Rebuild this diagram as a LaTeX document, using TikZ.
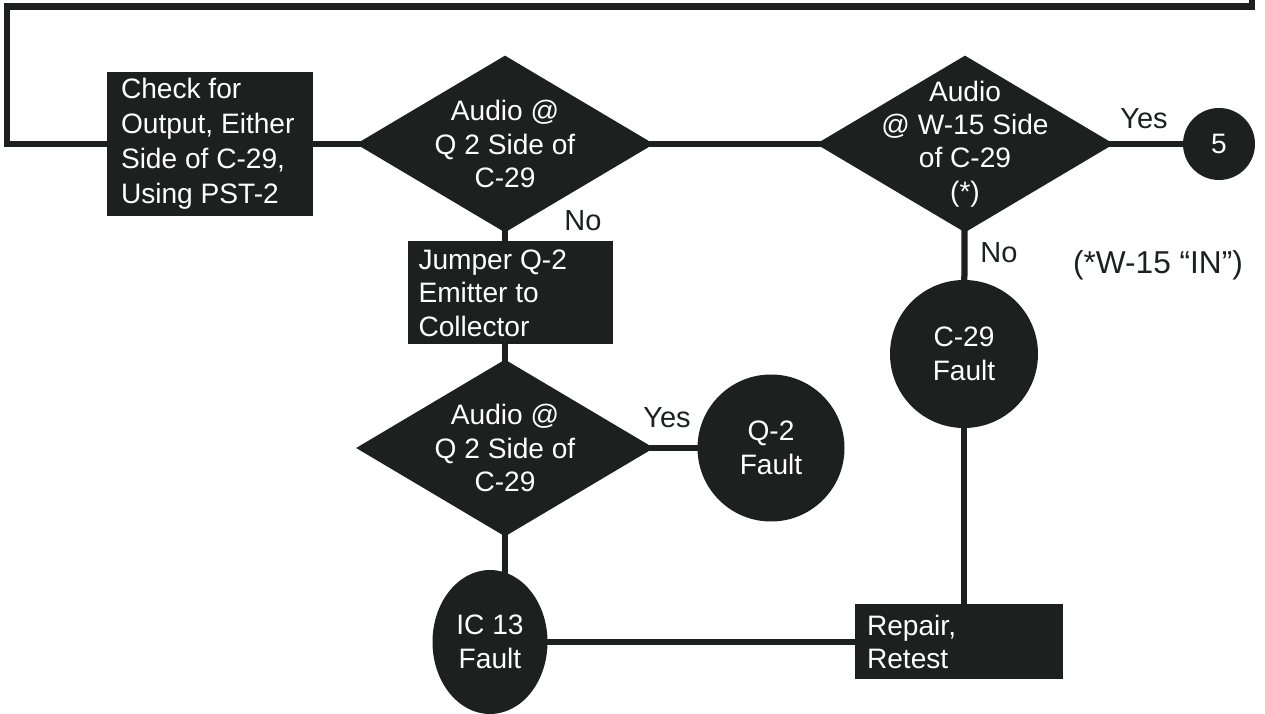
\documentclass[tikz,border=0pt]{standalone}
\usepackage{fontspec}
\setmainfont{Liberation Sans}
\usepackage{xcolor}
\usepackage{tikz}
\usetikzlibrary{shapes,positioning,calc,backgrounds}

\definecolor{ink}{RGB}{28,32,30}
\tikzset{
    wire/.style={line width=0.125cm, draw=ink},
    block/.style={rectangle, fill=ink, text=white, align=flush left, font=\fontsize{16}{19}\selectfont},
    decision/.style={diamond, fill=ink, aspect=1.68, minimum width=5.96cm, minimum height=3.54cm, inner sep=0pt},
    dtext/.style={text=white, align=center, inner sep=0pt, font=\fontsize{16}{19}\selectfont},
    fault/.style={circle, fill=ink, text=white, align=center, inner sep=0pt, minimum size=#1, font=\fontsize{16}{19}\selectfont},
    lbl/.style={text=ink, inner sep=0pt, font=\fontsize{16.5}{20}\selectfont},
}

\begin{document}
\begin{tikzpicture}
    \useasboundingbox (0,0) rectangle (25.3,14.28);

    % Top row
    \node [block, text width=3.56cm, inner xsep=0.28cm, minimum height=2.84cm,
        font=\fontsize{16}{20}\selectfont] (check) at (4.20,11.40)
        {Check for\\Output, Either\\Side of C-29,\\Using PST-2};
    \node [decision, label={[dtext]center:Audio @\\Q 2 Side of\\C-29}] (d1) at (10.10,11.40) {};
    \node [decision, label={[dtext]center:Audio\\@ W-15 Side\\of C-29\\(*)}] (d2) at (19.30,11.40) {};
    \node [fault=1.44cm] (five) at (24.38,11.40) {5};

    % Q-2 branch
    \node [block, text width=3.66cm, inner xsep=0.22cm, minimum height=2.06cm] (jump) at (10.20,8.42)
        {Jumper Q-2\\Emitter to\\Collector};
    \node [decision, label={[dtext]center:Audio @\\Q 2 Side of\\C-29}] (d3) at (10.10,5.32) {};
    \node [fault=2.94cm] (q2) at (15.42,5.32) {Q-2\\Fault};
    \node [ellipse, fill=ink, text=white, align=center, inner sep=0pt, minimum width=2.30cm, minimum height=2.88cm,
        font=\fontsize{16}{19}\selectfont] (ic) at (9.80,1.44) {IC 13\\Fault};

    % C-29 branch
    \node [fault=2.96cm] (c29) at (19.28,7.20) {C-29\\Fault};
    \node [block, text width=3.68cm, inner xsep=0.24cm, minimum height=1.50cm] (repair) at (19.18,1.44)
        {Repair,\\Retest};

    % Labels
    \node [lbl] (yes1) at (22.88,11.90) {Yes};
    \node [lbl] (no1) at (11.66,9.86) {No};
    \node [lbl] (yes2) at (13.34,5.92) {Yes};
    \node [lbl] (no2) at (19.98,9.22) {No};
    \node [lbl, font=\fontsize{18}{22}\selectfont] (note) at (23.16,8.98) {(*W-15 ``IN'')};

    % Connectors (run to centres, hidden behind the fills)
    \coordinate (loopend) at (25.04,14.28);
    \begin{scope}[on background layer]
        \draw [wire] (loopend) |- (0.14,14.15) |- (check.center);
        \draw [wire] (check.center) -- (d1.center) -- (d2.center) -- (five.center);
        \draw [wire] (d1.center) -- (d1.center |- jump.center);
        \draw [wire] (d3.center) -- (d3.center |- jump.center);
        \draw [wire] (d3.center) -- (q2.center);
        \draw [wire] (d3.center) -- (d3.center |- ic.center);
        \draw [wire] (ic.center) -- (repair.center);
        \draw [wire] (d2.center) -- (c29.center);
        \draw [wire] (c29.center) -- (c29.center |- repair.center);
    \end{scope}
\end{tikzpicture}
\end{document}
